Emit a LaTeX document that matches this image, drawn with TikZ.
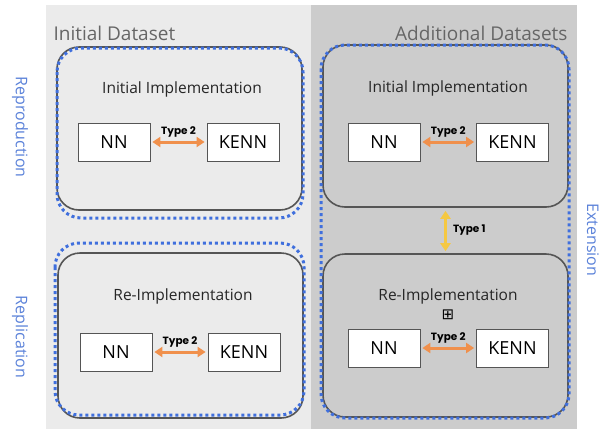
\documentclass[tikz,border=0pt]{standalone}
\usepackage{fontspec}
\setmainfont{Open Sans}
\newfontfamily\tagfont{Poppins}
\newfontfamily\symfont{DejaVu Sans}
\usetikzlibrary{positioning,arrows.meta}
\definecolor{lightpanel}{HTML}{EBEBEB}
\definecolor{darkpanel}{HTML}{CCCCCC}
\definecolor{frame}{HTML}{555555}
\definecolor{dotblue}{HTML}{3F6FDD}
\definecolor{sideblue}{HTML}{5B82D9}
\definecolor{linkorange}{HTML}{F0904C}
\definecolor{linkyellow}{HTML}{F5C842}
\definecolor{titlegrey}{HTML}{666666}

\begin{document}
\begin{tikzpicture}[x=1pt,y=-1pt,
    impl/.style={draw=frame,line width=1.6pt,rounded corners=22pt,minimum width=245pt,minimum height=163pt},
    model/.style={draw=frame,fill=white,line width=0.8pt,minimum width=72pt,minimum height=38pt,font=\fontsize{18}{20}\selectfont},
    group/.style={draw=dotblue,line width=3pt,dash pattern=on 3pt off 3pt,rounded corners=24pt},
    heading/.style={text=titlegrey,font=\fontsize{19}{22}\selectfont},
    implname/.style={text=black!85,font=\fontsize{15.5}{18}\selectfont},
    side/.style={text=sideblue,rotate=-90,font=\fontsize{16}{18}\selectfont},
    tag/.style={font=\tagfont\bfseries\fontsize{10.5}{12}\selectfont,inner sep=1pt},
    link/.style={{Triangle[length=8pt,width=10pt]}-{Triangle[length=8pt,width=10pt]},line width=3pt,shorten <=2pt,shorten >=2pt}]
    \useasboundingbox (0,0) rectangle (605,429);
    \fill[lightpanel] (46,5) rectangle (311,429);
    \fill[darkpanel] (311,5) rectangle (577,429);
    \node[heading,anchor=base west] (ds1) at (50,40) {Initial Dataset};
    \node[heading,anchor=base east] (ds2) at (571,40) {Additional Datasets};

    \node[impl] (tl) at (179.5,128.5) {};
    \node[impl,minimum height=165pt] (bl) at (180.5,335.5) {};
    \node[impl,minimum height=162pt] (tr) at (445.5,126) {};
    \node[impl] (br) at (445.5,335.5) {};

    \node[implname,anchor=base] (tltitle) at (182,93) {Initial Implementation};
    \node[implname,anchor=base] (bltitle) at (183,300) {Re-Implementation};
    \node[implname,anchor=base] (trtitle) at (448,92) {Initial Implementation};
    \node[implname,anchor=base] (brtitle) at (448,300) {Re-Implementation};
    \node[font=\symfont\fontsize{15}{16}\selectfont,inner sep=0pt] (plus) at (448,315) {⊞};

    \node[model] (nn1) at (114,142) {NN};
    \node[model] (kenn1) at (243,142) {KENN};
    \node[model] (nn2) at (116,352) {NN};
    \node[model] (kenn2) at (244,352) {KENN};
    \node[model] (nn3) at (384,142) {NN};
    \node[model] (kenn3) at (512.5,142) {KENN};
    \node[model] (nn4) at (384,348) {NN};
    \node[model] (kenn4) at (512.5,348) {KENN};

    \draw[link,linkorange] (nn1) -- node[tag,above=2pt,text=black] {Type 2} (kenn1);
    \draw[link,linkorange] (nn2) -- node[tag,above=2pt,text=black] {Type 2} (kenn2);
    \draw[link,linkorange] (nn3) -- node[tag,above=2pt,text=black] {Type 2} (kenn3);
    \draw[link,linkorange] (nn4) -- node[tag,above=2pt,text=black] {Type 2} (kenn4);
    \draw[link,linkyellow,shorten <=3pt] (tr) -- node[tag,right=5pt,text=black] {Type 1} (br);

    \draw[group] (57,48) rectangle (303,218);
    \draw[group] (55,243) rectangle (304,415);
    \draw[group] (321,45) rectangle (569,418);

    \node[side] (repro) at (20,127) {Reproduction};
    \node[side] (repli) at (20,337) {Replication};
    \node[side] (ext) at (593,240) {Extension};
\end{tikzpicture}
\end{document}
